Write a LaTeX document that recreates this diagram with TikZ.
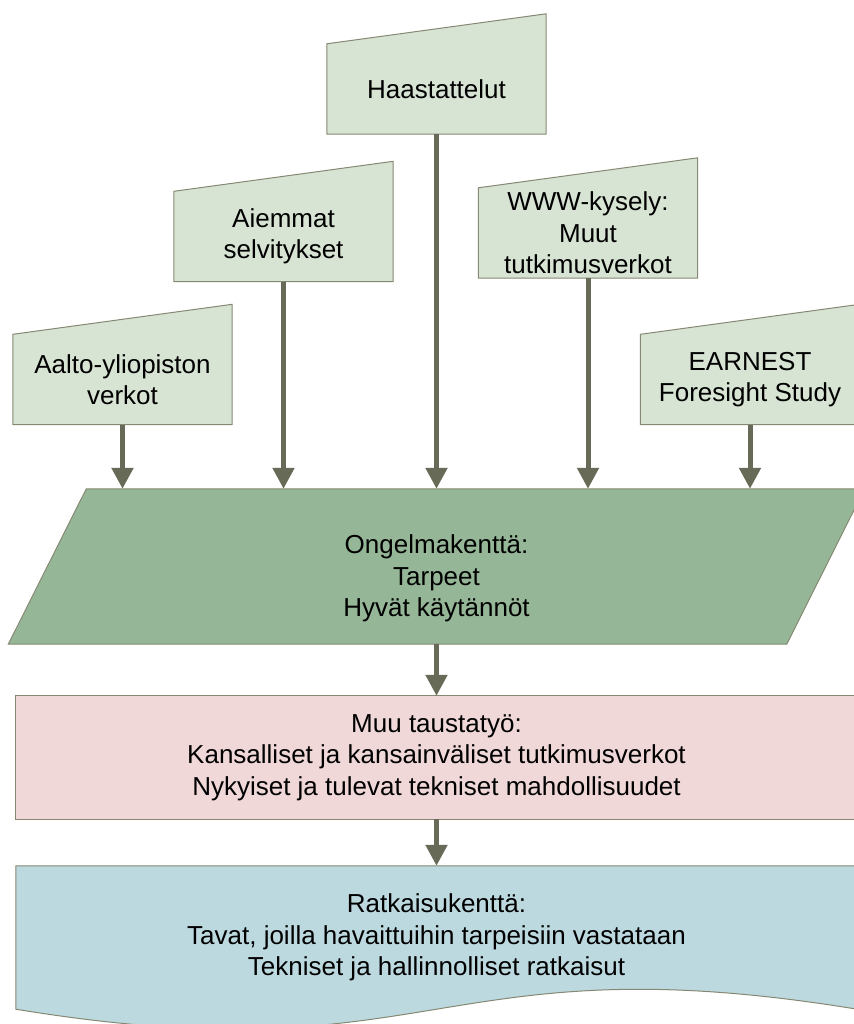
\documentclass[tikz,border=0pt]{standalone}
\usepackage{fontspec}
\setmainfont{Liberation Sans}
\usetikzlibrary{arrows.meta,backgrounds}
\definecolor{srcgreen}{HTML}{D7E4D3}
\definecolor{probgreen}{HTML}{95B797}
\definecolor{bgpink}{HTML}{F0D8D9}
\definecolor{solblue}{HTML}{BDD9E0}
\definecolor{edgegray}{HTML}{858872}
\definecolor{arrowgray}{HTML}{666A56}

\begin{document}
\begin{tikzpicture}[x=1pt,y=-1pt,
		txt/.style={align=center,inner sep=0pt,font=\fontsize{26}{31.5}\selectfont},
		src/.style={txt,minimum width=219pt,minimum height=90pt},
		outline/.style={draw=edgegray,line width=1pt},
		flow/.style={arrowgray,line width=5pt,-{Triangle[length=21pt,width=21pt]}}]
		\useasboundingbox (0,0) rectangle (853,1024);
		\clip (0,0) rectangle (853,1024);
		\foreach \n/\x/\y/\t in {haast/436.5/89/Haastattelut,
				aiemmat/283.5/236.5/{Aiemmat\\selvitykset},
				www/588/233/{WWW-kysely:\\Muut\\tutkimusverkot},
				aalto/122.5/379.5/{Aalto-yliopiston\\verkot},
				earnest/750/379.5/{EARNEST\\Foresight Study}}{
				\node[src] (\n) at (\x,\y) {\t};
			}
		\node[minimum width=778pt,minimum height=155pt,
			label={[txt,name=ongelmateksti,yshift=-12pt]center:{Ongelmakenttä:\\Tarpeet\\Hyvät käytännöt}}] (ongelma) at (436.5,566.5) {};
		\node[txt,minimum width=841pt,minimum height=123pt] (muu) at (436.5,757.5) {Muu taustatyö:\\Kansalliset ja kansainväliset tutkimusverkot\\Nykyiset ja tulevat tekniset mahdollisuudet};
		\node[txt,minimum width=841pt,minimum height=143pt] (ratkaisu) at (436.5,937.5) {Ratkaisukenttä:\\Tavat, joilla havaittuihin tarpeisiin vastataan\\Tekniset ja hallinnolliset ratkaisut};
		\begin{scope}[on background layer]
			\foreach \n in {haast,aiemmat,www,aalto,earnest}{
					\draw[outline,fill=srcgreen] (\n.south west) -- (\n.south east) -- ([yshift=30pt]\n.north east) -- (\n.north west) -- cycle;
				}
			\draw[outline,fill=probgreen] ([xshift=-39pt]ongelma.south west) -- ([xshift=39pt]ongelma.north west) -- ([xshift=39pt]ongelma.north east) -- ([xshift=-39pt]ongelma.south east) -- cycle;
			\draw[outline,fill=bgpink] (muu.south west) rectangle (muu.north east);
			\draw[outline,fill=solblue] (ratkaisu.north west) -- (ratkaisu.south west) .. controls ([yshift=-69pt]ratkaisu.south) and ([yshift=69pt]ratkaisu.south) .. (ratkaisu.south east) -- (ratkaisu.north east) -- cycle;
		\end{scope}
		\foreach \n in {haast,aiemmat,www,aalto,earnest}{
				\draw[flow] (\n.south) -- (\n.south |- ongelma.north);
			}
		\draw[flow] (ongelma.south) -- (muu.north);
		\draw[flow] (muu.south) -- (ratkaisu.north);
	\end{tikzpicture}
\end{document}
